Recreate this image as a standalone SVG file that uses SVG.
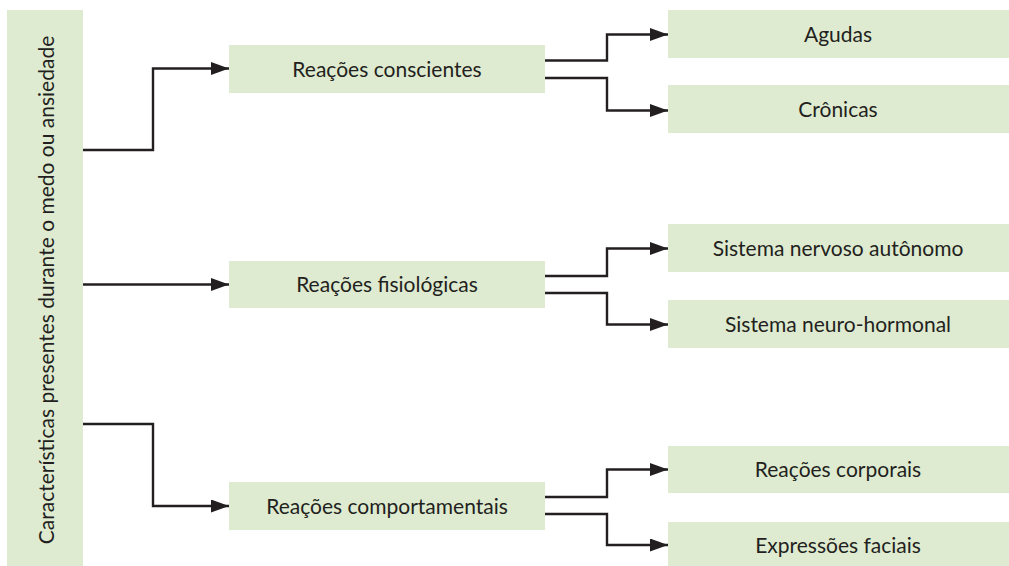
<svg xmlns="http://www.w3.org/2000/svg" width="1009" height="566" viewBox="0 0 1009 566">
<style>
.box{fill:#deebd0;}
.t{font-family:Lato,"Open Sans","Liberation Sans",sans-serif;font-size:21px;fill:#231f20;text-anchor:middle;}
.c{fill:none;stroke:#231f20;stroke-width:2.4;marker-end:url(#ah);}
</style>
<defs>
<marker id="ah" viewBox="0 0 18 13" refX="18" refY="6.5" markerWidth="18" markerHeight="13" markerUnits="userSpaceOnUse" orient="auto">
<path d="M0,0 L18,6.5 L0,13 Z" fill="#231f20"/>
</marker>
</defs>
<rect width="1009" height="566" fill="#ffffff"/>
<g id="connectors">
<path class="c" d="M83,150 H153 V68.5 H229"/>
<path class="c" d="M83,284.5 H229"/>
<path class="c" d="M83,424 H153 V506 H229"/>
<path class="c" d="M545,60.5 H607 V34.5 H668"/>
<path class="c" d="M545,78 H607 V110.5 H668"/>
<path class="c" d="M545,276 H607 V248.5 H668"/>
<path class="c" d="M545,293 H607 V324.5 H668"/>
<path class="c" d="M545,497 H607 V469.5 H668"/>
<path class="c" d="M545,514 H607 V545 H668"/>
</g>
<g id="root">
<rect class="box" x="7" y="10" width="76" height="556"/>
<text class="t" transform="translate(53.5,290) rotate(-90)">Características presentes durante o medo ou ansiedade</text>
</g>
<g id="n-conscientes">
<rect class="box" x="229" y="45" width="316" height="48"/>
<text class="t" x="387" y="77">Reações conscientes</text>
</g>
<g id="n-fisiologicas">
<rect class="box" x="229" y="261" width="316" height="47"/>
<text class="t" x="387" y="292">Reações fisiológicas</text>
</g>
<g id="n-comportamentais">
<rect class="box" x="229" y="482" width="316" height="48"/>
<text class="t" x="387" y="514">Reações comportamentais</text>
</g>
<g id="n-agudas">
<rect class="box" x="668" y="10" width="341" height="48"/>
<text class="t" x="838" y="42">Agudas</text>
</g>
<g id="n-cronicas">
<rect class="box" x="668" y="85" width="341" height="48"/>
<text class="t" x="838" y="117">Crônicas</text>
</g>
<g id="n-sna">
<rect class="box" x="668" y="224" width="341" height="48"/>
<text class="t" x="838" y="256">Sistema nervoso autônomo</text>
</g>
<g id="n-snh">
<rect class="box" x="668" y="300" width="341" height="48"/>
<text class="t" x="838" y="332">Sistema neuro-hormonal</text>
</g>
<g id="n-corporais">
<rect class="box" x="668" y="446" width="341" height="47"/>
<text class="t" x="838" y="477">Reações corporais</text>
</g>
<g id="n-faciais">
<rect class="box" x="668" y="522" width="341" height="44"/>
<text class="t" x="838" y="553">Expressões faciais</text>
</g>
</svg>
